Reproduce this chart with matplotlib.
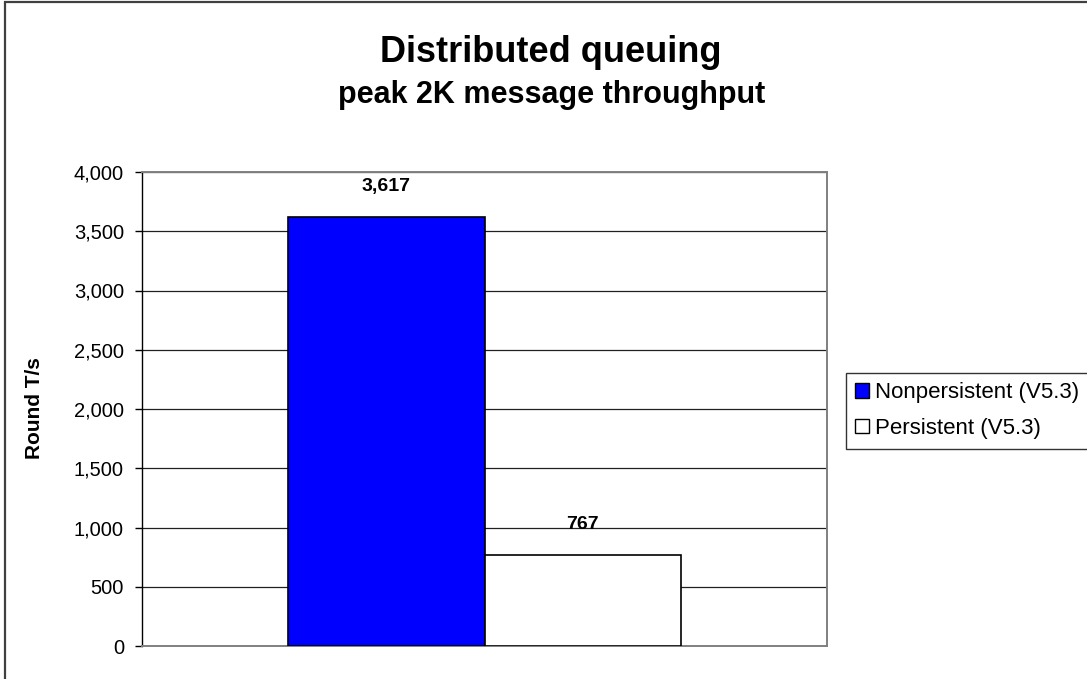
import matplotlib.pyplot as plt
from matplotlib.patches import Patch, Rectangle
from matplotlib.ticker import FuncFormatter

plt.rcParams['font.family'] = ['Liberation Sans', 'DejaVu Sans']

series = ['Nonpersistent (V5.3)', 'Persistent (V5.3)']
values = [3617, 767]
colors = ['#0000ff', '#ffffff']
y_ticks = [0, 500, 1000, 1500, 2000, 2500, 3000, 3500, 4000]

W, H = 1087, 679
fig = plt.figure(figsize=(W / 100, H / 100), dpi=100)
ax = fig.add_axes([142 / W, 33 / H, 685 / W, 474 / H])

# outer chart frame (runs off the right and bottom edges)
fig.patches.append(Rectangle((5 / W, -0.05), 1.0, 1.05 - 1.5 / H,
                             transform=fig.transFigure, fill=False,
                             ec='#404040', lw=1.6))

bw = 0.287
offsets = [-bw / 2, bw / 2]
for off, v, c in zip(offsets, values, colors):
    ax.bar(off, v, width=bw, color=c, edgecolor='black', linewidth=1.2, zorder=3)
    ax.annotate(f'{v:,}', (off, v), xytext=(0, 19), textcoords='offset points',
                ha='center', va='baseline', fontsize=14, fontweight='bold')

ax.set_xlim(-0.5, 0.5)
ax.set_ylim(0, 4000)
ax.set_yticks(y_ticks)
ax.yaxis.set_major_formatter(FuncFormatter(lambda v, p: f'{int(v):,}'))
ax.set_xticks([])
ax.tick_params(axis='y', labelsize=14.5, length=5, width=1.0, direction='out',
               color='black', pad=8)
ax.grid(axis='y', color='#202020', linewidth=0.9, zorder=0)
ax.set_axisbelow(True)
for s in ['top', 'right', 'bottom']:
    ax.spines[s].set_color('#808080')
    ax.spines[s].set_linewidth(1.4)
ax.spines['left'].set_color('black')
ax.spines['left'].set_linewidth(1.0)

ax.set_ylabel('Round T/s', fontsize=15, fontweight='bold')
ax.yaxis.set_label_coords(-0.143, 0.502)

fig.text(551 / W, 1 - 62 / H, 'Distributed queuing', ha='center', va='baseline',
         fontsize=26, fontweight='bold')
fig.text(552 / W, 1 - 103 / H, 'peak 2K message throughput', ha='center',
         va='baseline', fontsize=22, fontweight='bold')

handles = [Patch(facecolor=c, edgecolor='black', linewidth=1.0) for c in colors]
leg = fig.legend(handles, series, loc='upper left',
                 bbox_to_anchor=(846 / W, 1 - 373 / H), fontsize=16,
                 frameon=True, fancybox=False, handlelength=0.6, handleheight=0.6,
                 handletextpad=0.3, borderpad=0.42, labelspacing=0.67,
                 borderaxespad=0)
leg.get_frame().set_edgecolor('black')
leg.get_frame().set_linewidth(1.0)

fig.savefig('out.png', dpi=100)
